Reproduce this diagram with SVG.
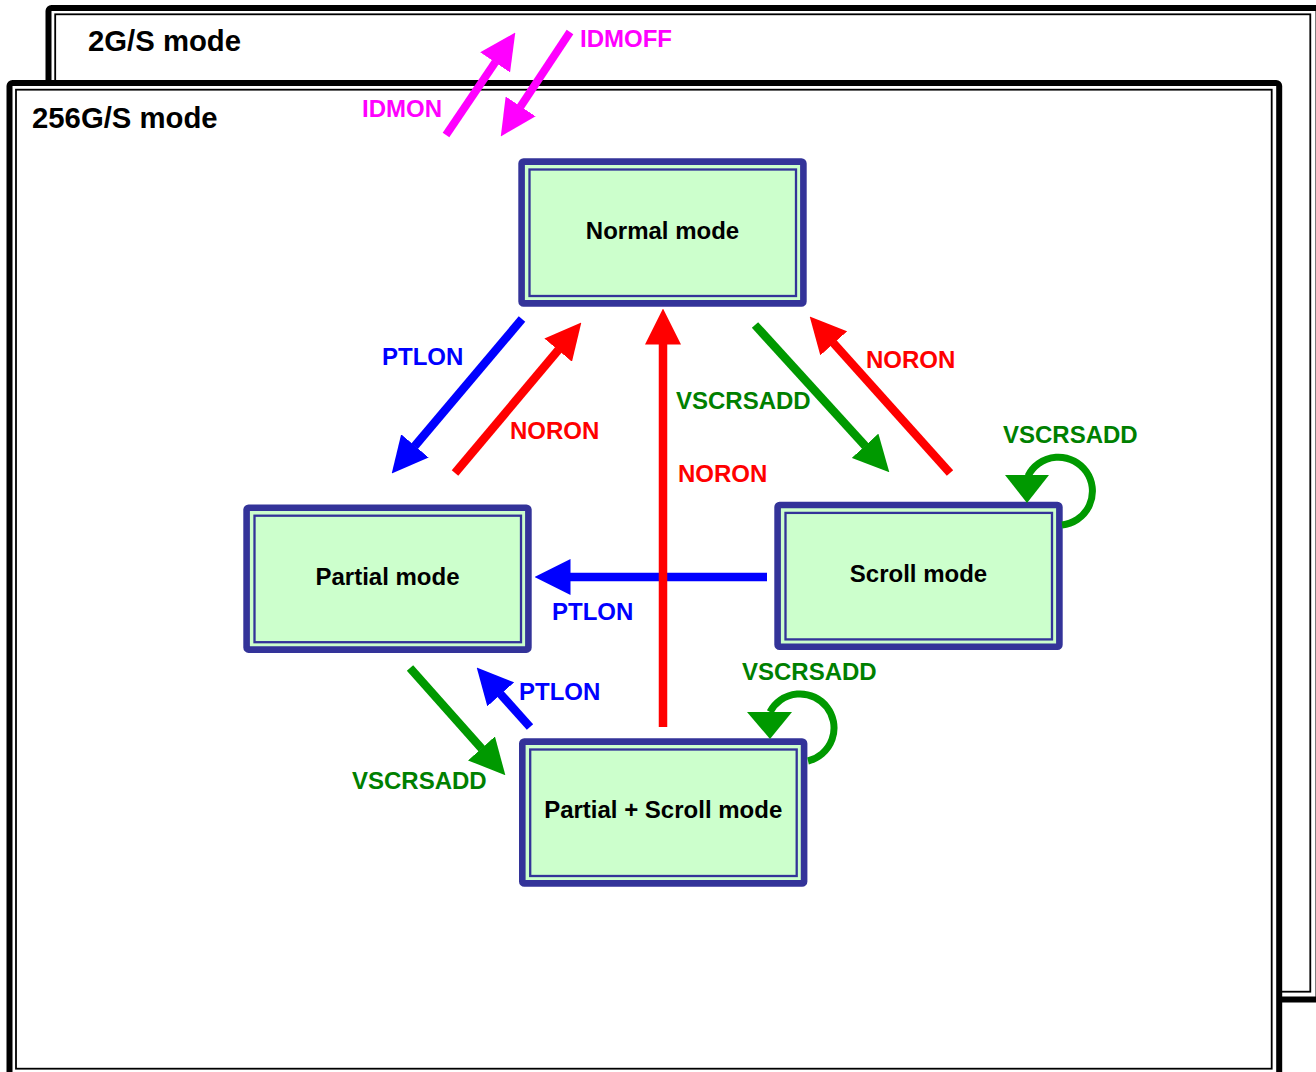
<svg xmlns="http://www.w3.org/2000/svg" width="1316" height="1072" viewBox="0 0 1316 1072">
  <style>
    text { font-family: "Liberation Sans", Arial, sans-serif; font-weight: bold; }
    .frame-outer { fill: #FFFFFF; stroke: #000000; stroke-width: 6; }
    .frame-inner { fill: none; stroke: #000000; stroke-width: 1.8; }
    .frame-label { font-size: 29.3px; fill: #000000; }
    .node-outer { fill: #CCFFCC; stroke: #333399; stroke-width: 6.6; }
    .node-inner { fill: none; stroke: #333399; stroke-width: 2.3; }
    .node-label { font-size: 24px; fill: #000000; text-anchor: middle; }
    .edge { fill: none; stroke-width: 8.5; stroke-linecap: butt; }
    .mag { stroke: #FF00FF; stroke-width: 8; }
    .blue { stroke: #0000FF; }
    .red { stroke: #FF0000; }
    .green { stroke: #009900; }
    .loop { fill: none; stroke: #009900; stroke-width: 7; }
    .lbl { font-size: 24px; }
    .lbl-mag { fill: #FF00FF; }
    .lbl-blue { fill: #0000FF; }
    .lbl-red { fill: #FF0000; }
    .lbl-green { fill: #008000; }
  </style>
  <defs>
    <marker id="ah-mag" viewBox="0 -18 36 36" refX="0.5" refY="0" markerWidth="36" markerHeight="36" markerUnits="userSpaceOnUse" orient="auto">
      <path d="M0,-18 L36,0 L0,18 Z" fill="#FF00FF"/>
    </marker>
    <marker id="ah-blue" viewBox="0 -18 36 36" refX="0.5" refY="0" markerWidth="36" markerHeight="36" markerUnits="userSpaceOnUse" orient="auto">
      <path d="M0,-18 L36,0 L0,18 Z" fill="#0000FF"/>
    </marker>
    <marker id="ah-red" viewBox="0 -18 36 36" refX="0.5" refY="0" markerWidth="36" markerHeight="36" markerUnits="userSpaceOnUse" orient="auto">
      <path d="M0,-18 L36,0 L0,18 Z" fill="#FF0000"/>
    </marker>
    <marker id="ah-green" viewBox="0 -18 36 36" refX="0.5" refY="0" markerWidth="36" markerHeight="36" markerUnits="userSpaceOnUse" orient="auto">
      <path d="M0,-18 L36,0 L0,18 Z" fill="#009900"/>
    </marker>
  </defs>

  <rect width="1316" height="1072" fill="#FFFFFF"/>

  <!-- back frame: 2G/S mode -->
  <g id="frame-2gs">
    <rect class="frame-outer" x="48.5" y="8" width="1270" height="991.5" rx="3"/>
    <rect class="frame-inner" x="55.2" y="14.3" width="1255.1" height="977.4"/>
    <text class="frame-label" x="88" y="50.5">2G/S mode</text>
  </g>

  <!-- front frame: 256G/S mode -->
  <g id="frame-256gs">
    <rect class="frame-outer" x="9.5" y="83" width="1269.7" height="993" rx="3"/>
    <rect class="frame-inner" x="16" y="89.7" width="1255.7" height="979"/>
    <text class="frame-label" x="32" y="128">256G/S mode</text>
  </g>

  <!-- state nodes -->
  <g id="node-normal" transform="translate(518.3,158.3)">
    <rect class="node-outer" x="3.3" y="3.3" width="281.8" height="141.8" rx="2"/>
    <rect class="node-inner" x="11.2" y="11.2" width="266.5" height="126.5"/>
    <text class="node-label" x="144.2" y="81">Normal mode</text>
  </g>
  <g id="node-partial" transform="translate(243.3,504.5)">
    <rect class="node-outer" x="3.3" y="3.3" width="281.8" height="141.8" rx="2"/>
    <rect class="node-inner" x="11.2" y="11.2" width="266.5" height="126.5"/>
    <text class="node-label" x="144.2" y="80">Partial mode</text>
  </g>
  <g id="node-scroll" transform="translate(774.3,501.7)">
    <rect class="node-outer" x="3.3" y="3.3" width="281.8" height="141.8" rx="2"/>
    <rect class="node-inner" x="11.2" y="11.2" width="266.5" height="126.5"/>
    <text class="node-label" x="144.2" y="80.5">Scroll mode</text>
  </g>
  <g id="node-partial-scroll" transform="translate(519,738.3)">
    <rect class="node-outer" x="3.3" y="3.3" width="281.8" height="141.8" rx="2"/>
    <rect class="node-inner" x="11.2" y="11.2" width="266.5" height="126.5"/>
    <text class="node-label" x="144.2" y="80">Partial + Scroll mode</text>
  </g>

  <!-- transitions -->
  <g id="connectors">
    <!-- IDMON / IDMOFF between the two frames -->
    <line class="edge mag" x1="446" y1="135" x2="495.4" y2="62" marker-end="url(#ah-mag)"/>
    <line class="edge mag" x1="570" y1="32" x2="520.4" y2="106.8" marker-end="url(#ah-mag)"/>

    <!-- Normal -> Partial (PTLON) and back (NORON) -->
    <line class="edge blue" x1="522" y1="319" x2="414.6" y2="446.3" marker-end="url(#ah-blue)"/>
    <line class="edge red" x1="455" y1="473" x2="558.5" y2="349.8" marker-end="url(#ah-red)"/>

    <!-- Scroll -> Partial (PTLON) -->
    <line class="edge blue" x1="767" y1="577" x2="570" y2="577" marker-end="url(#ah-blue)"/>

    <!-- Partial + Scroll -> Normal (NORON) -->
    <line class="edge red" x1="663" y1="727" x2="663" y2="344" marker-end="url(#ah-red)"/>

    <!-- Normal -> Scroll (VSCRSADD) and back (NORON) -->
    <line class="edge green" x1="755" y1="325" x2="865.4" y2="446.1" marker-end="url(#ah-green)"/>
    <line class="edge red" x1="950" y1="473" x2="833.4" y2="343" marker-end="url(#ah-red)"/>

    <!-- Partial <-> Partial + Scroll -->
    <line class="edge blue" x1="530" y1="727" x2="500.4" y2="694" marker-end="url(#ah-blue)"/>
    <line class="edge green" x1="410" y1="668" x2="481.8" y2="748.8" marker-end="url(#ah-green)"/>

    <!-- self loops (VSCRSADD) -->
    <path class="loop" d="M1062,525 A34,34 0 1 0 1028,476"/>
    <polygon points="1005,475 1049,475 1027,503" fill="#009900"/>
    <path class="loop" d="M808,761 A34,34 0 1 0 770,712"/>
    <polygon points="747,712 792,712 770,739" fill="#009900"/>

    <!-- transition labels -->
    <text class="lbl lbl-mag" x="362" y="117">IDMON</text>
    <text class="lbl lbl-mag" x="580" y="46.5">IDMOFF</text>
    <text class="lbl lbl-blue" x="382" y="365">PTLON</text>
    <text class="lbl lbl-red" x="510" y="438.5">NORON</text>
    <text class="lbl lbl-green" x="676" y="409">VSCRSADD</text>
    <text class="lbl lbl-red" x="678" y="481.5">NORON</text>
    <text class="lbl lbl-red" x="866" y="368">NORON</text>
    <text class="lbl lbl-green" x="1003" y="443">VSCRSADD</text>
    <text class="lbl lbl-blue" x="552" y="620">PTLON</text>
    <text class="lbl lbl-blue" x="519" y="700">PTLON</text>
    <text class="lbl lbl-green" x="742" y="680">VSCRSADD</text>
    <text class="lbl lbl-green" x="352" y="789">VSCRSADD</text>
  </g>
</svg>
